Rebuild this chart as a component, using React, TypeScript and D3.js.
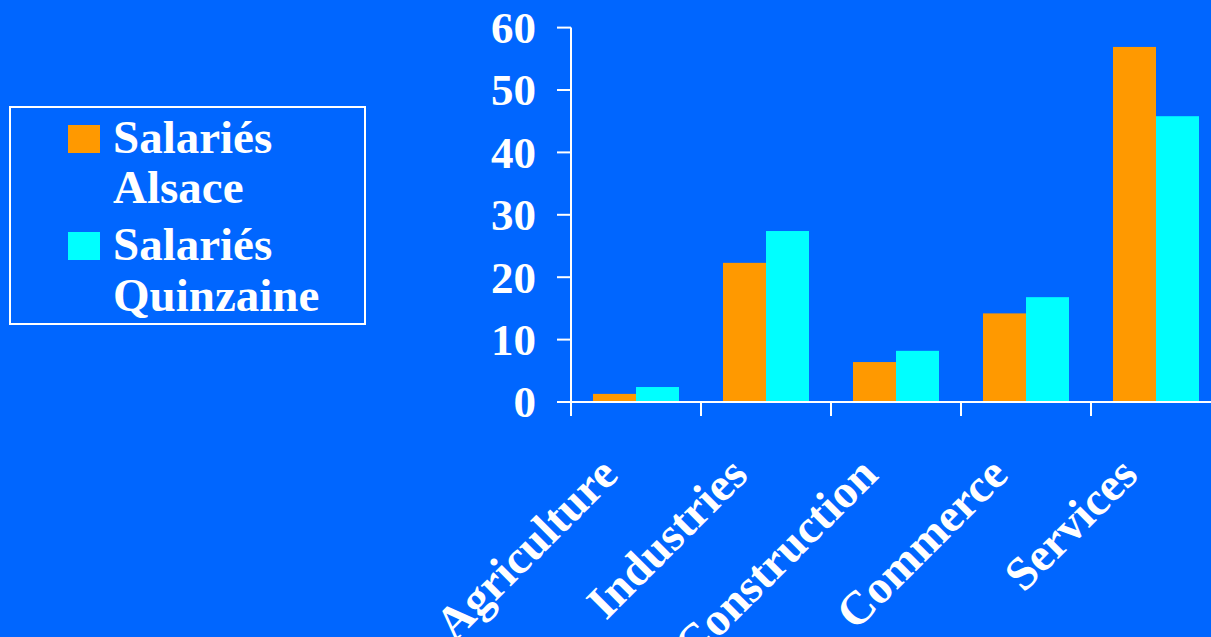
import React from "react";
import * as d3 from "d3";

const categories = ["Agriculture", "Industries", "Construction", "Commerce", "Services"];
const seriesNames = ["Salariés Alsace", "Salariés Quinzaine"];
const alsaceValues = [1.3, 22.3, 6.4, 14.2, 56.9];
const quinzaineValues = [2.4, 27.4, 8.2, 16.8, 45.8];
const yTicks = [0, 10, 20, 30, 40, 50, 60];
const legendLines = [["Salariés", "Alsace"], ["Salariés", "Quinzaine"]];

const W = 1211;
const H = 637;
const BG = "#0066ff";
const COLORS = ["#ff9900", "#00ffff"];
const FONT = "'Liberation Serif', 'Times New Roman', serif";

export default function App() {
  const x0 = 571;
  const yBase = 402;
  const x = d3.scaleBand<string>().domain(categories).range([x0, x0 + 650]).paddingInner(0).paddingOuter(0);
  const inner = d3.scaleBand<string>().domain(["a", "q"]).range([22, 108]).padding(0);
  const y = d3.scaleLinear().domain([0, 60]).range([yBase, 27.6]);
  const series = [alsaceValues, quinzaineValues];
  const keys = ["a", "q"];

  return (
    <svg width={W} height={H} style={{ position: "absolute", left: 0, top: 0, display: "block" }} fontFamily={FONT}>
      <rect x={0} y={0} width={W} height={H} fill={BG} />
      {categories.map((c, i) => (
        <g key={c}>
          {series.map((vals, s) => (
            <rect
              key={s}
              x={(x(c) as number) + (inner(keys[s]) as number)}
              y={y(vals[i])}
              width={inner.bandwidth()}
              height={yBase - y(vals[i])}
              fill={COLORS[s]}
            />
          ))}
        </g>
      ))}
      <line x1={x0} x2={x0} y1={y(60)} y2={yBase} stroke="#fff" strokeWidth={2} />
      {yTicks.map((t) => (
        <g key={t}>
          <line x1={x0 - 14} x2={x0} y1={y(t)} y2={y(t)} stroke="#fff" strokeWidth={2} />
          <text x={536} y={y(t)} dy="0.34em" textAnchor="end" fill="#fff" fontSize={45} fontWeight="bold">
            {t}
          </text>
        </g>
      ))}
      <line x1={x0} x2={W} y1={yBase} y2={yBase} stroke="#fff" strokeWidth={2} />
      {categories.map((c) => (
        <line key={c} x1={x(c) as number} x2={x(c) as number} y1={yBase} y2={yBase + 14} stroke="#fff" strokeWidth={2} />
      ))}
      {categories.map((c) => {
        const cx = (x(c) as number) + x.bandwidth() / 2 - 16;
        const cy = 477;
        return (
          <text
            key={c}
            x={cx}
            y={cy}
            transform={`rotate(-45 ${cx} ${cy})`}
            textAnchor="end"
            fill="#fff"
            fontSize={47}
            fontWeight="bold"
          >
            {c}
          </text>
        );
      })}
      <rect x={10} y={107} width={355} height={217} fill="none" stroke="#fff" strokeWidth={2} />
      {seriesNames.map((name, s) => (
        <g key={name}>
          <rect x={68} y={s === 0 ? 125 : 232} width={32} height={28} fill={COLORS[s]} />
          <text x={113} y={s === 0 ? 153 : 260} fill="#fff" fontSize={47} fontWeight="bold">
            {legendLines[s][0]}
          </text>
          <text x={113} y={s === 0 ? 203 : 311} fill="#fff" fontSize={47} fontWeight="bold">
            {legendLines[s][1]}
          </text>
        </g>
      ))}
    </svg>
  );
}
